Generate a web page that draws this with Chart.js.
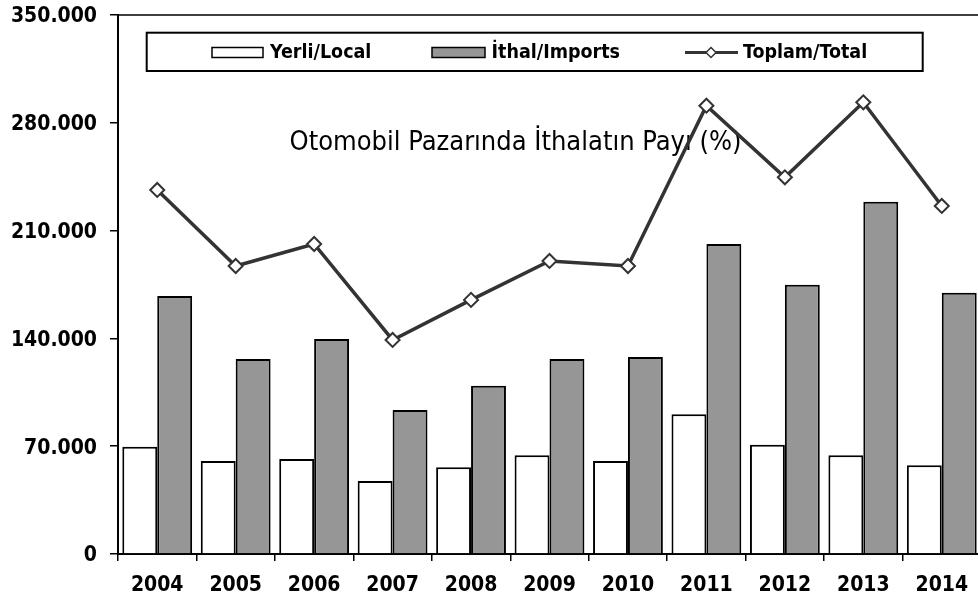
<!DOCTYPE html>
<html><head><meta charset="utf-8">
<script src="https://cdn.jsdelivr.net/npm/chart.js@4/dist/chart.umd.min.js"></script>
<style>
html,body{margin:0;padding:0;overflow:hidden;background:#fff;width:978px;height:602px}
#wrap{position:absolute;left:0;top:0;width:990px;height:602px}
</style></head>
<body><div id="wrap"><canvas id="c" width="990" height="602"></canvas></div>
<script>
const years = ['2004','2005','2006','2007','2008','2009','2010','2011','2012','2013','2014'];
const localSales  = [69700, 60400, 61700, 47400, 56300, 64100, 60400, 90700, 71000, 64100, 57600];
const importSales = [167500, 126600, 139600, 93500, 109300, 126600, 127900, 201300, 174900, 228800, 169700];
const totalSales  = [236400, 187000, 201300, 139000, 165000, 190300, 187000, 291100, 244600, 293300, 226000];
const yTicks = [0, 70000, 140000, 210000, 280000, 350000];
const seriesNames = ['Yerli/Local', 'İthal/Imports', 'Toplam/Total'];
const chartTitle = 'Otomobil Pazarında İthalatın Payı (%)';

const FAM = '"DejaVu Sans Condensed", "DejaVu Sans", sans-serif';
const GRAY = '#969696';
const LINE = '#333333';

function fmt(v){ return String(v).replace(/\B(?=(\d{3})+(?!\d))/g, '.'); }

const overlay = {
  id: 'overlay',
  beforeDatasetsDraw(chart){
    const ctx = chart.ctx;
    ctx.save();
    ctx.font = '27px ' + FAM;
    ctx.fillStyle = '#000';
    ctx.textAlign = 'center';
    ctx.textBaseline = 'middle';
    ctx.fillText(chartTitle, 515.5, 143);
    ctx.restore();
  },
  afterDraw(chart){
    const ctx = chart.ctx;
    const a = chart.chartArea;
    ctx.save();
    ctx.strokeStyle = '#000';
    ctx.lineWidth = 1.5;
    ctx.beginPath();
    ctx.moveTo(a.left, a.top);
    ctx.lineTo(a.right, a.top);
    ctx.stroke();
    // legend box
    ctx.fillStyle = '#fff';
    ctx.fillRect(146.7, 32.7, 776, 38.3);
    ctx.lineWidth = 2;
    ctx.strokeRect(146.7, 32.7, 776, 38.3);
    const cy = 52.5;
    ctx.font = 'bold 19.5px ' + FAM;
    ctx.textBaseline = 'middle';
    ctx.textAlign = 'left';
    ctx.lineWidth = 1.5;
    ctx.fillStyle = '#fff';
    ctx.fillRect(212, 47.5, 51, 10);
    ctx.strokeRect(212, 47.5, 51, 10);
    ctx.fillStyle = '#000';
    ctx.fillText(seriesNames[0], 270, cy);
    ctx.fillStyle = GRAY;
    ctx.fillRect(432, 47.5, 53, 10);
    ctx.strokeRect(432, 47.5, 53, 10);
    ctx.fillStyle = '#000';
    ctx.fillText(seriesNames[1], 491.5, cy);
    ctx.strokeStyle = LINE;
    ctx.lineWidth = 3;
    ctx.beginPath();
    ctx.moveTo(685, cy); ctx.lineTo(738, cy);
    ctx.stroke();
    ctx.beginPath();
    ctx.moveTo(711, cy-5); ctx.lineTo(716, cy); ctx.lineTo(711, cy+5); ctx.lineTo(706, cy); ctx.closePath();
    ctx.fillStyle = '#fff'; ctx.fill();
    ctx.lineWidth = 1.5; ctx.stroke();
    ctx.fillStyle = '#000';
    ctx.fillText(seriesNames[2], 743, cy);
    ctx.restore();
  }
};

new Chart(document.getElementById('c'), {
  type: 'bar',
  data: {
    labels: years,
    datasets: [
      { type: 'line', label: seriesNames[2], data: totalSales, order: 0,
        borderColor: LINE, borderWidth: 3.5, pointStyle: 'rectRot', pointRadius: 7,
        pointBackgroundColor: '#fff', pointBorderColor: LINE, pointBorderWidth: 2, tension: 0 },
      { label: seriesNames[0], data: localSales, order: 1, backgroundColor: '#fff',
        borderColor: '#000', borderWidth: 2, categoryPercentage: 0.89, barPercentage: 1.0 },
      { label: seriesNames[1], data: importSales, order: 1, backgroundColor: GRAY,
        borderColor: '#000', borderWidth: 2, categoryPercentage: 0.89, barPercentage: 1.0 }
    ]
  },
  options: {
    responsive: false,
    animation: false,
    layout: { padding: { top: 15, right: 7.4, left: 0, bottom: 0 } },
    plugins: { legend: { display: false }, tooltip: { enabled: false }, title: { display: false } },
    scales: {
      x: {
        offset: true,
        grid: { offset: true, drawOnChartArea: false, drawTicks: true, tickLength: 7, color: '#000', lineWidth: 1.5 },
        border: { display: true, color: '#000', width: 2 },
        ticks: { color: '#000', font: { family: FAM, size: 21, weight: 'bold' }, padding: 12, maxRotation: 0 },
        afterFit(s){ s.height = 48; s.paddingLeft = 0; s.paddingRight = 0; }
      },
      y: {
        min: 0, max: 350000,
        afterBuildTicks(s){ s.ticks = yTicks.map(v => ({ value: v })); },
        grid: { drawOnChartArea: false, drawTicks: true, tickLength: 8, color: '#000', lineWidth: 1.5 },
        border: { display: true, color: '#000', width: 2 },
        ticks: { color: '#000', font: { family: FAM, size: 21, weight: 'bold' }, padding: 13,
                 labelOffset: 2, callback: v => fmt(v) },
        afterFit(s){ s.width = 118; s.paddingTop = 0; s.paddingBottom = 0; }
      }
    }
  },
  plugins: [overlay]
});
</script></body></html>
